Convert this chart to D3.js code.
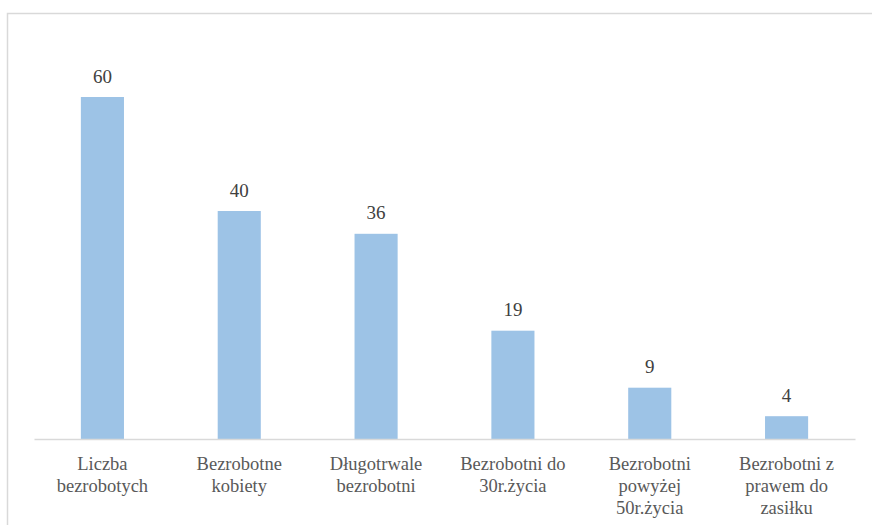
<!DOCTYPE html>
<html>
<head>
<meta charset="utf-8">
<script src="https://cdn.jsdelivr.net/npm/d3@7"></script>
<style>
  html, body { margin: 0; padding: 0; background: #fff; }
  svg { display: block; }
  .serif { font-family: "Liberation Serif", "Times New Roman", serif; }
</style>
</head>
<body>
<svg id="chart" width="872" height="525"></svg>
<script>
const categories = [
  "Liczba\nbezrobotych",
  "Bezrobotne\nkobiety",
  "Długotrwale\nbezrobotni",
  "Bezrobotni do\n30r.życia",
  "Bezrobotni\npowyżej\n50r.życia",
  "Bezrobotni z\nprawem do\nzasiłku"
];
const values = [60, 40, 36, 19, 9, 4];
const yDomain = [0, 70];

const svg = d3.select("#chart");
const W = 872, H = 525;

// chart area border
svg.append("rect")
  .attr("x", 7.5).attr("y", 13.5)
  .attr("width", W + 20).attr("height", H + 20)
  .attr("fill", "#fff")
  .attr("stroke", "#D9D9D9")
  .attr("stroke-width", 1.5);

const x = d3.scaleBand()
  .domain(categories)
  .range([34, 855])
  .paddingInner(0.685)
  .paddingOuter(0.3425);

const y = d3.scaleLinear()
  .domain(yDomain)
  .range([439, 40]);

const data = categories.map((c, i) => ({ c, v: values[i] }));

// bars
svg.append("g").selectAll("rect")
  .data(data).join("rect")
  .attr("x", d => x(d.c))
  .attr("y", d => y(d.v))
  .attr("width", x.bandwidth())
  .attr("height", d => y(0) - y(d.v))
  .attr("fill", "#9DC3E6");

// axis line
const xAxis = d3.axisBottom(x).tickSize(0).tickFormat("");
const gx = svg.append("g")
  .attr("transform", `translate(0,${y(0)})`)
  .call(xAxis);
gx.select(".domain").attr("stroke", "#D9D9D9").attr("stroke-width", 1.5);

// category labels
const lab = svg.append("g").selectAll("text")
  .data(categories).join("text")
  .attr("class", "serif")
  .attr("x", d => x(d) + x.bandwidth() / 2)
  .attr("y", 470)
  .attr("text-anchor", "middle")
  .style("font-size", "18.5px")
  .attr("fill", "#595959");
lab.each(function(d) {
  const t = d3.select(this);
  d.split("\n").forEach((line, i) => {
    t.append("tspan")
      .attr("x", x(d) + x.bandwidth() / 2)
      .attr("dy", i === 0 ? 0 : 22)
      .text(line);
  });
});

// value labels
svg.append("g").selectAll("text")
  .data(data).join("text")
  .attr("class", "serif")
  .attr("x", d => x(d.c) + x.bandwidth() / 2)
  .attr("y", d => y(d.v) - 14.5)
  .attr("text-anchor", "middle")
  .style("font-size", "19px")
  .attr("fill", "#404040")
  .text(d => d.v);
</script>
</body>
</html>
